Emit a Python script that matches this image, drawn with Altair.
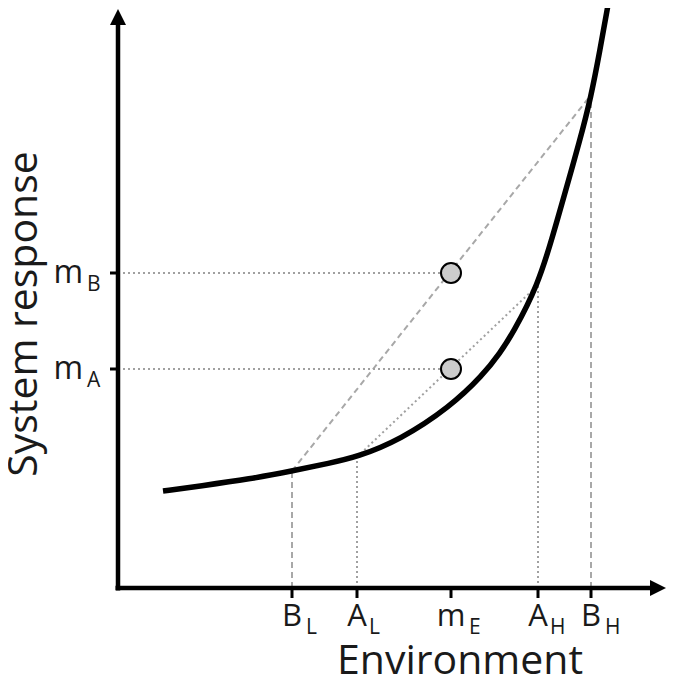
import altair as alt
import pandas as pd

# ---- data ----
curve_env = [45, 82, 132, 174, 212, 239, 282, 332, 365, 382, 395, 420, 435, 445, 462, 473, 482, 490]
curve_resp = [97, 102, 109, 117, 125, 131, 148, 181, 213, 235, 255, 303, 353, 388, 448, 491, 538, 583]

x_tick_main = ["B", "A", "m", "A", "B"]
x_tick_sub = ["L", "L", "E", "H", "H"]
x_tick_pos = [174, 239, 333, 420, 473]

y_tick_main = ["m", "m"]
y_tick_sub = ["B", "A"]
y_tick_pos = [315, 219]

# responses of the curve at the four environment extremes
B_low_resp, B_high_resp = 117, 493
A_low_resp, A_high_resp = 131, 303
mE = 333
mB_resp, mA_resp = 315, 219

x_title = "Environment"
y_title = "System response"

# ---- scales ----
W, H = 658, 668
xs = alt.Scale(domain=[-110, 548], nice=False, zero=False)
ys = alt.Scale(domain=[-88, 580], nice=False, zero=False)
FONT = "Open Sans"
TXT = "#1a1a1a"

def X(f="x"):
    return alt.X(f"{f}:Q", scale=xs, axis=None)

def Y(f="y"):
    return alt.Y(f"{f}:Q", scale=ys, axis=None)

curve_df = pd.DataFrame({"x": curve_env, "y": curve_resp})
curve = alt.Chart(curve_df).mark_line(
    color="black", strokeWidth=5.5, interpolate="basis", clip=True
).encode(x=X(), y=Y())

bl, al, ah, bh = x_tick_pos[0], x_tick_pos[1], x_tick_pos[3], x_tick_pos[4]
dashed_df = pd.DataFrame({
    "x": [bl, bh, bl],
    "y": [0, 0, B_low_resp],
    "x2": [bl, bh, bh],
    "y2": [B_low_resp, B_high_resp, B_high_resp],
})
dotted_df = pd.DataFrame({
    "x": [al, ah, al, 0, 0],
    "y": [0, 0, A_low_resp, mB_resp, mA_resp],
    "x2": [al, ah, ah, mE, mE],
    "y2": [A_low_resp, A_high_resp, A_high_resp, mB_resp, mA_resp],
})
dashed = alt.Chart(dashed_df).mark_rule(
    color="#a8a8a8", strokeWidth=2, strokeDash=[6, 4]
).encode(x=X(), y=Y(), x2="x2:Q", y2="y2:Q")
dotted = alt.Chart(dotted_df).mark_rule(
    color="#a0a0a0", strokeWidth=2, strokeDash=[2, 3]
).encode(x=X(), y=Y(), x2="x2:Q", y2="y2:Q")

pts_df = pd.DataFrame({"x": [mE, mE], "y": [mB_resp, mA_resp]})
pts = alt.Chart(pts_df).mark_point(
    shape="circle", size=400, filled=True, fill="#cccccc", stroke="black",
    strokeWidth=2, opacity=1
).encode(x=X(), y=Y())

# axes
axes_df = pd.DataFrame({"x": [-2.5, 0], "y": [0, -2.5], "x2": [535, 0], "y2": [0, 565]})
axes = alt.Chart(axes_df).mark_rule(color="black", strokeWidth=4.5).encode(
    x=X(), y=Y(), x2="x2:Q", y2="y2:Q")

up_df = pd.DataFrame({"x": [0], "y": [579]})
up = alt.Chart(up_df).mark_point(
    shape="M0,0L-1,2L1,2Z", size=256, filled=True, color="black", opacity=1
).encode(x=X(), y=Y())
right_df = pd.DataFrame({"x": [548], "y": [0]})
right = alt.Chart(right_df).mark_point(
    shape="M0,0L-2,-1L-2,1Z", size=256, filled=True, color="black", opacity=1
).encode(x=X(), y=Y())

# ticks
xt_df = pd.DataFrame({"x": x_tick_pos, "y": [0] * 5, "y2": [-10] * 5})
xticks = alt.Chart(xt_df).mark_rule(color="black", strokeWidth=3).encode(
    x=X(), y=Y(), y2="y2:Q")
yt_df = pd.DataFrame({"x": [-8] * 2, "x2": [0] * 2, "y": y_tick_pos})
yticks = alt.Chart(yt_df).mark_rule(color="black", strokeWidth=3).encode(
    x=X(), x2="x2:Q", y=Y())

# tick labels
sub_off = {"B": 14, "A": 12, "m": 18}
xl_df = pd.DataFrame({
    "x": x_tick_pos,
    "xs": [p + sub_off[m] for p, m in zip(x_tick_pos, x_tick_main)],
    "y": [0] * 5,
    "main": x_tick_main,
    "sub": x_tick_sub,
})
xl_main = alt.Chart(xl_df).mark_text(
    font=FONT, fontSize=31, color=TXT, align="center", baseline="alphabetic", dy=38
).encode(x=X(), y=Y(), text="main:N")
xl_sub = alt.Chart(xl_df).mark_text(
    font=FONT, fontSize=21, color=TXT, align="left", baseline="alphabetic", dy=46
).encode(x=X("xs"), y=Y(), text="sub:N")

yl_df = pd.DataFrame({
    "x": [-35] * 2, "xs": [-31] * 2, "y": y_tick_pos,
    "main": y_tick_main, "sub": y_tick_sub,
})
yl_main = alt.Chart(yl_df).mark_text(
    font=FONT, fontSize=32, color=TXT, align="right", baseline="alphabetic", dy=10
).encode(x=X(), y=Y(), text="main:N")
yl_sub = alt.Chart(yl_df).mark_text(
    font=FONT, fontSize=21, color=TXT, align="left", baseline="alphabetic", dy=18
).encode(x=X("xs"), y=Y(), text="sub:N")

# titles
xt_title = alt.Chart(pd.DataFrame({"x": [342], "y": [-86], "t": [x_title]})).mark_text(
    font=FONT, fontSize=41, color=TXT, align="center", baseline="alphabetic"
).encode(x=X(), y=Y(), text="t:N")
yt_title = alt.Chart(pd.DataFrame({"x": [-81], "y": [274], "t": [y_title]})).mark_text(
    font=FONT, fontSize=41, color=TXT, align="center", baseline="alphabetic", angle=270
).encode(x=X(), y=Y(), text="t:N")

chart = alt.layer(
    dashed, dotted, curve, pts, axes, up, right, xticks, yticks,
    xl_main, xl_sub, yl_main, yl_sub, xt_title, yt_title
).properties(
    width=W, height=H, padding=0, autosize=alt.AutoSizeParams(type="none")
).configure_view(stroke=None)

chart.save("out.html", embed_options={"renderer": "svg", "actions": False})
